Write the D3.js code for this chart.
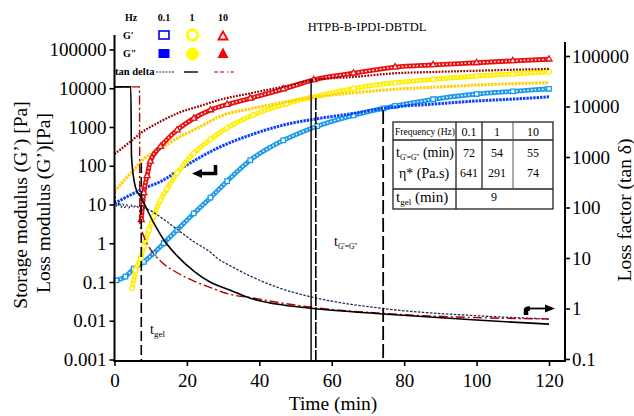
<!DOCTYPE html>
<html><head><meta charset="utf-8">
<script src="https://cdn.jsdelivr.net/npm/d3@7"></script>
<style>
body{margin:0;background:#fff}
svg{display:block}
text{font-family:"Liberation Serif","Times New Roman",serif;fill:#000}
</style>
</head><body>
<svg id="c" width="634" height="416"></svg>
<script>
// ---------------- DATA ----------------
const xTicks = [0, 20, 40, 60, 80, 100, 120];
const leftTicks = [0.001, 0.01, 0.1, 1, 10, 100, 1000, 10000, 100000];
const leftTickLabels = ["0.001", "0.01", "0.1", "1", "10", "100", "1000", "10000", "100000"];
const rightTicks = [0.1, 1, 10, 100, 1000, 10000, 100000];
const rightTickLabels = ["0.1", "1", "10", "100", "1000", "10000", "100000"];

// [time (min), modulus (Pa)]
const gPrime01 = [[0.5,0.11],[3,0.137],[5.3,0.22],[8.1,0.33],[10.8,0.55],[13.6,1.0],[17.3,2.2],[21.9,5.9],[26.5,15],[31.1,40],[37.5,140],[46.6,450],[56,1050],[66,2000],[74.3,3040],[77.5,3500],[88,5200],[100,7100],[110,8300],[120,9700]];
const gDouble01 = [[0,10.7],[4.4,17.6],[8.1,26],[12.7,39],[20,105],[28.3,280],[37.5,620],[46.6,1120],[56.6,1670],[66,2240],[74.3,3040],[77.5,3300],[88,3900],[100,4700],[110,5250],[120,6000]];
const gPrime1 = [[4.9,0.069],[5.8,0.2],[7.2,0.41],[8.1,0.81],[9.5,2.2],[10.8,4.9],[12.7,13],[14.5,25],[17.3,65],[21.9,210],[26.5,480],[31.1,950],[38.3,2040],[47.5,4000],[54,5700],[66,9800],[77.5,13900],[88,17000],[100,20700],[110,23400],[120,26700]];
const gDouble1 = [[0,22],[4.4,63],[8.1,150],[12.7,282],[17.3,510],[23.7,1020],[29,1860],[38.3,3040],[47.5,4500],[54,5700],[66,7600],[77.5,9400],[88,10600],[100,12100],[110,13100],[120,13900]];
const gPrime10 = [[7.4,4],[8.1,20],[9.0,55],[9.9,130],[12.7,310],[17.3,835],[21.9,1670],[26.5,2750],[31.1,3800],[37.5,5500],[46.6,9500],[55,16500],[66,24400],[77.5,35000],[88,40000],[100,45500],[110,51000],[120,56000]];
const gDouble10 = [[0,200],[4.4,420],[7.2,690],[12.7,1380],[17.3,2240],[23.7,3500],[29,5000],[37.5,7400],[46.6,11000],[55,16500],[66,19500],[77.5,24400],[88,26300],[100,28300],[110,30000],[120,31600]];

// [time (min), tan delta]
const tanD01 = [[0,500],[0.3,120],[0.8,105],[1.3,125],[1.8,100],[2.3,118],[2.8,100],[3.3,115],[3.9,98],[4.5,112],[5.2,100],[5.9,110],[6.6,100],[7.4,108],[8.1,100],[9.2,92],[10.8,80],[13.6,58],[17.3,37],[21.9,21],[26.5,13],[28.3,10],[32,7],[37.5,4.4],[46.6,2.4],[54.9,1.66],[74.2,1.0],[100,0.72],[120,0.62]];
const tanD1 = [[0,24500],[4.5,24500],[4.7,1000],[5.8,250],[7.5,150],[10.8,50],[13.6,23],[17.3,11],[21.9,5.5],[26.5,3.3],[32,2.3],[37.5,1.6],[46.6,1.17],[54.9,1.0],[74.2,0.78],[100,0.59],[120,0.49]];
const tanD10 = [[0,24500],[6.9,24500],[7.0,50],[8.1,27],[9.9,15],[12.7,8.7],[17.3,5.1],[21.9,3.5],[26.5,2.6],[32,1.9],[37.5,1.65],[46.6,1.27],[54.9,1.05],[74.2,0.8],[100,0.66],[120,0.62]];

// reference vertical lines: time and top value (left axis)
const refTimes = [7.4, 54.3, 55.6, 74.2];
const refTops = [117, 17400, 5600, 2750];

// table
const freqs = ["0.1", "1", "10"];
const tCross = ["72", "54", "55"];
const etaStar = ["641", "291", "74"];
const tGel = "9";

// ---------------- CHART ----------------
const svg = d3.select("#c");
const x = d3.scaleLinear().domain([0, 120]).range([114.5, 549]);
const yL = d3.scaleLog().domain([0.001, 1e5]).range([359.5, 49.5]);
const yR = d3.scaleLog().domain([0.1, 1e5]).range([359, 56]);
const SERIF = '"Liberation Serif","Times New Roman",serif';
const INK = "#000";

const lineL = d3.line().x(d => x(d[0])).y(d => yL(d[1])).curve(d3.curveMonotoneX);
const lineR = d3.line().x(d => x(d[0])).y(d => yR(d[1])).curve(d3.curveMonotoneX);

const plot = svg.append("g");

// filled-marker series (dense dotted bands)
function filledSeries(data, color, w, dash) {
  plot.append("path").attr("d", lineL(data)).attr("fill", "none")
    .attr("stroke", color).attr("stroke-width", w).attr("stroke-dasharray", dash);
}
// open-marker series (band with white interior)
function openSeries(data, color, shape, size) {
  plot.append("path").attr("d", lineL(data)).attr("fill", "none")
    .attr("stroke", color).attr("stroke-width", 4.8);
  plot.append("path").attr("d", lineL(data)).attr("fill", "none")
    .attr("stroke", "#fff").attr("stroke-width", 1.5).attr("stroke-dasharray", "1.5,2.2");
  const sym = d3.symbol().type(shape).size(size);
  plot.selectAll(null).data(data).enter().append("path")
    .attr("d", sym).attr("transform", d => `translate(${x(d[0])},${yL(d[1])})`)
    .attr("fill", "#fff").attr("stroke", color).attr("stroke-width", 1.3);
}

openSeries(gPrime01, "#1e9be8", d3.symbolSquare, 20);
filledSeries(gDouble01, "#0a40ff", 3.0, "2.4,1");
openSeries(gPrime1, "#fff000", d3.symbolCircle, 18);
filledSeries(gDouble1, "#ffd000", 3.0, "2.4,1");
openSeries(gPrime10, "#e81010", d3.symbolTriangle, 16);
filledSeries(gDouble10, "#9a0000", 2.2, "1.8,1.3");

// tan delta lines
plot.append("path").attr("d", lineR(tanD01)).attr("fill", "none")
  .attr("stroke", "#1c2a5a").attr("stroke-width", 1.3).attr("stroke-dasharray", "2.5,1.5");
plot.append("path").attr("d", lineR(tanD10)).attr("fill", "none")
  .attr("stroke", "#b00000").attr("stroke-width", 1.4).attr("stroke-dasharray", "9,3,2,3");
plot.append("path").attr("d", lineR(tanD1)).attr("fill", "none")
  .attr("stroke", "#000").attr("stroke-width", 1.6);

// vertical reference lines
const refDash = ["10,4", null, "12,2", "14,4"];
const refW = [1.6, 1.4, 1.6, 1.8];
refTimes.forEach((t, i) => {
  plot.append("line").attr("x1", x(t)).attr("x2", x(t))
    .attr("y1", yL(refTops[i])).attr("y2", 361)
    .attr("stroke", "#000").attr("stroke-width", refW[i])
    .attr("stroke-dasharray", refDash[i]);
});

// ---------------- AXES ----------------
function styleAxis(g) {
  g.attr("font-family", SERIF).attr("font-size", 19);
  g.select(".domain").remove();
  g.selectAll(".tick line").attr("stroke", "#000").attr("stroke-width", 1.6);
  g.selectAll(".tick text").attr("fill", INK);
}
svg.append("g").attr("transform", "translate(114.5,0)")
  .call(d3.axisLeft(yL).tickValues(leftTicks).tickFormat((d, i) => leftTickLabels[i]).tickSize(5).tickPadding(3))
  .call(styleAxis);
svg.append("g").attr("transform", "translate(565,0)")
  .call(d3.axisRight(yR).tickValues(rightTicks).tickFormat((d, i) => rightTickLabels[i]).tickSize(5).tickPadding(2))
  .call(styleAxis);
svg.append("g").attr("transform", "translate(0,361)")
  .call(d3.axisBottom(x).tickValues(xTicks).tickFormat(d3.format("d")).tickSize(5).tickPadding(8))
  .call(styleAxis);

// spines
svg.append("line").attr("x1", 114.5).attr("x2", 114.5).attr("y1", 35).attr("y2", 362).attr("stroke", "#000").attr("stroke-width", 2);
svg.append("line").attr("x1", 565).attr("x2", 565).attr("y1", 42).attr("y2", 362).attr("stroke", "#000").attr("stroke-width", 2);
svg.append("line").attr("x1", 113.5).attr("x2", 566).attr("y1", 361).attr("y2", 361).attr("stroke", "#000").attr("stroke-width", 2);

// axis titles
function txt(parent) { return parent.append("text").attr("fill", INK).attr("font-family", SERIF); }
txt(svg).attr("transform", "translate(27,205) rotate(-90)").attr("text-anchor", "middle")
  .attr("font-size", 19.5).text("Storage modulus (G’) [Pa]");
txt(svg).attr("transform", "translate(50,203) rotate(-90)").attr("text-anchor", "middle")
  .attr("font-size", 19.5).text("Loss modulus (G’)[Pa]");
txt(svg).attr("transform", "translate(631,210) rotate(-90)").attr("text-anchor", "middle")
  .attr("font-size", 19.5).text("Loss factor (tan δ)");
txt(svg).attr("x", 333).attr("y", 410).attr("text-anchor", "middle")
  .attr("font-size", 19.5).text("Time (min)");

// title
txt(svg).attr("x", 367).attr("y", 31).attr("text-anchor", "middle")
  .attr("font-size", 12.5).text("HTPB-B-IPDI-DBTDL");

// ---------------- LEGEND ----------------
const lg = svg.append("g").attr("font-weight", "bold").attr("font-size", 10);
txt(lg).attr("x", 125).attr("y", 21).text("Hz");
[["0.1", 164], ["1", 192], ["10", 223]].forEach(([s, cx]) =>
  txt(lg).attr("x", cx).attr("y", 21).attr("text-anchor", "middle").text(s));
txt(lg).attr("x", 123).attr("y", 38.5).text("G'");
txt(lg).attr("x", 123).attr("y", 57).text("G\"");
lg.append("rect").attr("x", 159).attr("y", 31).attr("width", 10).attr("height", 8)
  .attr("fill", "#fff").attr("stroke", "#0000ff").attr("stroke-width", 1.6);
lg.append("circle").attr("cx", 192.5).attr("cy", 35).attr("r", 5.2)
  .attr("fill", "#fff").attr("stroke", "#ffff00").attr("stroke-width", 2.8);
lg.append("path").attr("d", "M223,31.5L218.5,39.5L227.5,39.5Z")
  .attr("fill", "#fff").attr("stroke", "#ff0000").attr("stroke-width", 1.8);
lg.append("rect").attr("x", 158.5).attr("y", 49).attr("width", 11).attr("height", 9).attr("fill", "#0000ff");
lg.append("circle").attr("cx", 192.5).attr("cy", 54).attr("r", 6.5).attr("fill", "#ffff00");
lg.append("path").attr("d", "M223,47.5L217.5,58L228.5,58Z").attr("fill", "#ff0000");
txt(lg).attr("x", 115).attr("y", 75).attr("font-size", 10.5).text("tan delta");
lg.append("line").attr("x1", 156).attr("x2", 175).attr("y1", 72).attr("y2", 72)
  .attr("stroke", "#1c2a5a").attr("stroke-width", 1.2).attr("stroke-dasharray", "2,1.2");
lg.append("line").attr("x1", 184).attr("x2", 198).attr("y1", 72).attr("y2", 72)
  .attr("stroke", "#000").attr("stroke-width", 1.4);
lg.append("line").attr("x1", 214).attr("x2", 234).attr("y1", 72).attr("y2", 72)
  .attr("stroke", "#b00000").attr("stroke-width", 1.2).attr("stroke-dasharray", "4,2,4,3,1.5,2");

// ---------------- ANNOTATIONS ----------------
const tg = txt(svg).attr("x", 150).attr("y", 334).attr("font-size", 14);
tg.append("tspan").text("t");
tg.append("tspan").attr("font-size", 9).attr("dy", 3).text("gel");
const tc = txt(svg).attr("x", 334).attr("y", 246).attr("font-size", 14);
tc.append("tspan").text("t");
tc.append("tspan").attr("font-size", 7.5).attr("dy", 3).text("G'=G\"");

// left-pointing hooked arrow
svg.append("path").attr("d", "M215.5,165 L215.5,173.5 L201,173.5").attr("fill", "none")
  .attr("stroke", "#000").attr("stroke-width", 3.6);
svg.append("path").attr("d", "M192,173.5 L202,169 L202,178 Z").attr("fill", "#000");
// right-pointing hooked arrow
svg.append("path").attr("d", "M526,315 L526,310 Q526,308.5 530,308.5").attr("fill", "none")
  .attr("stroke", "#000").attr("stroke-width", 4.5);
svg.append("line").attr("x1", 529).attr("x2", 547).attr("y1", 308.5).attr("y2", 308.5)
  .attr("stroke", "#000").attr("stroke-width", 1.8);
svg.append("path").attr("d", "M555,308.5 L545,304.5 L545,312.5 Z").attr("fill", "#000");

// ---------------- TABLE ----------------
const tb = svg.append("g");
const TX0 = 393, TX1 = 553, TY0 = 122, TY1 = 140, TY2 = 189, TY3 = 209;
const colX = [456, 482, 513];
const colC = [469, 497, 533];
tb.append("rect").attr("x", TX0).attr("y", TY0).attr("width", TX1 - TX0).attr("height", TY3 - TY0)
  .attr("fill", "#fff").attr("stroke", "#222").attr("stroke-width", 1.3);
[TY1, TY2].forEach(yy => tb.append("line").attr("x1", TX0).attr("x2", TX1).attr("y1", yy).attr("y2", yy)
  .attr("stroke", "#222").attr("stroke-width", 1.3));
tb.append("line").attr("x1", colX[0]).attr("x2", colX[0]).attr("y1", TY0).attr("y2", TY3).attr("stroke", "#222").attr("stroke-width", 1.3);
tb.append("line").attr("x1", colX[1]).attr("x2", colX[1]).attr("y1", TY0).attr("y2", TY2).attr("stroke", "#222").attr("stroke-width", 1.3);
tb.append("line").attr("x1", colX[2]).attr("x2", colX[2]).attr("y1", TY0).attr("y2", TY2).attr("stroke", "#555").attr("stroke-width", 1);
txt(tb).attr("x", 425).attr("y", 135).attr("text-anchor", "middle").attr("font-size", 9.5).text("Frequency (Hz)");
freqs.forEach((f, i) => txt(tb).attr("x", colC[i]).attr("y", 136).attr("text-anchor", "middle").attr("font-size", 12).text(f));
tCross.forEach((v, i) => txt(tb).attr("x", colC[i]).attr("y", 157).attr("text-anchor", "middle").attr("font-size", 12).text(v));
etaStar.forEach((v, i) => txt(tb).attr("x", colC[i]).attr("y", 177).attr("text-anchor", "middle").attr("font-size", 12).text(v));
const r2 = txt(tb).attr("x", 396).attr("y", 157).attr("font-size", 14);
r2.append("tspan").text("t");
r2.append("tspan").attr("font-size", 7.5).attr("dy", 3).text("G'=G\"");
r2.append("tspan").attr("dy", -3).text(" (min)");
txt(tb).attr("x", 399).attr("y", 178).attr("font-size", 14).text("η* (Pa.s)");
const r3 = txt(tb).attr("x", 396).attr("y", 202).attr("font-size", 15);
r3.append("tspan").text("t");
r3.append("tspan").attr("font-size", 9).attr("dy", 3).text("gel");
r3.append("tspan").attr("dy", -3).text(" (min)");
txt(tb).attr("x", 494).attr("y", 201).attr("text-anchor", "middle").attr("font-size", 12).text(tGel);
</script>
</body></html>
